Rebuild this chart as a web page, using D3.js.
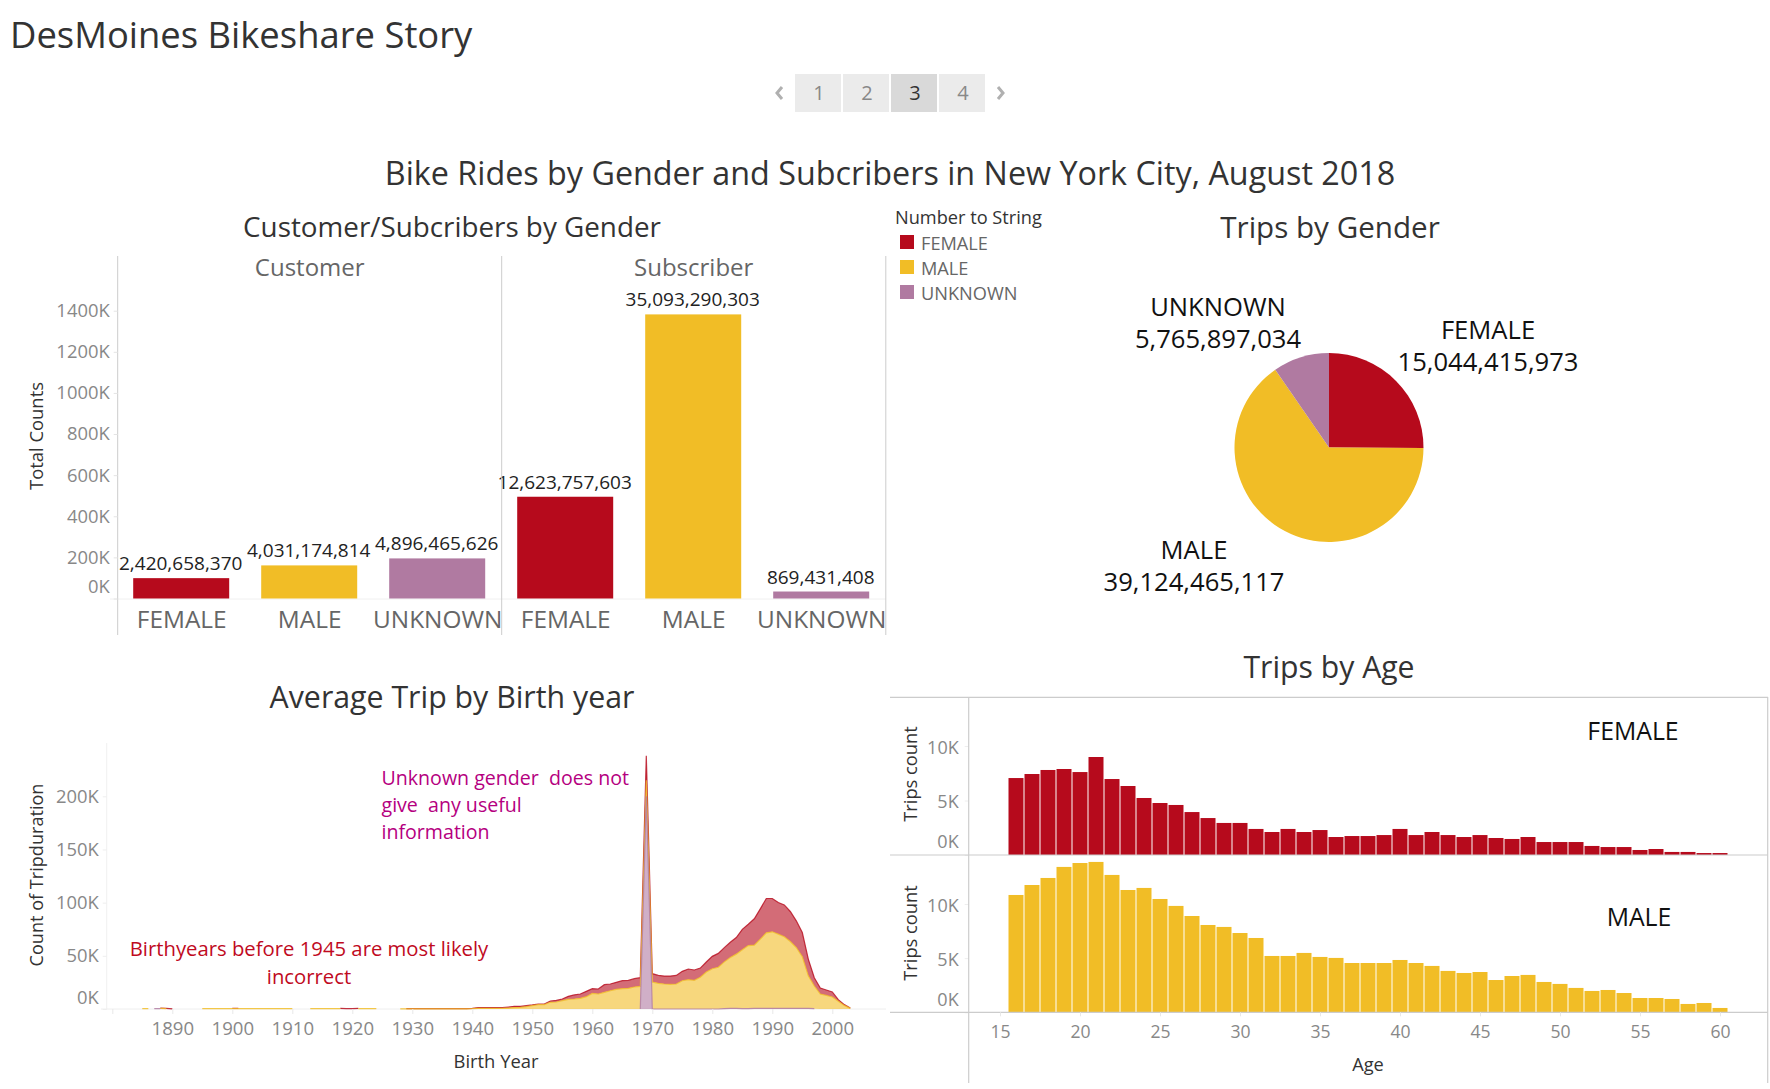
<!DOCTYPE html>
<html>
<head>
<meta charset="utf-8">
<title>DesMoines Bikeshare Story</title>
<script src="https://cdn.jsdelivr.net/npm/d3@7"></script>
<style>
  body { margin: 0; background: #fff; }
  svg { position: absolute; top: 1px; left: 0; }
  svg text { font-family: "Open Sans", sans-serif; }
</style>
</head>
<body>
<div id="chart"></div>
<script>
// ---- data ----
const genders = ["FEMALE", "MALE", "UNKNOWN"];
const genderColors = ["#b60a1c", "#f1bd26", "#b07aa1"];

const customerCounts = [99, 161, 195];
const subscriberCounts = [495, 1382, 34];
const customerLabels = ["2,420,658,370", "4,031,174,814", "4,896,465,626"];
const subscriberLabels = ["12,623,757,603", "35,093,290,303", "869,431,408"];
const barTicks = [0, 200, 400, 600, 800, 1000, 1200, 1400];

const tripTotals = [15044415973, 39124465117, 5765897034];
const tripLabels = ["15,044,415,973", "39,124,465,117", "5,765,897,034"];

const pages = ["1", "2", "3", "4"];

// one row per ten birth years, starting 1885
const birthYears = d3.range(1885, 2004);
const birthTicks = [1880, 1890, 1900, 1910, 1920, 1930, 1940, 1950, 1960, 1970, 1980, 1990, 2000];
const birthTickLabelled = [1890, 1900, 1910, 1920, 1930, 1940, 1950, 1960, 1970, 1980, 1990, 2000];
const birthValueTicks = [0, 50, 100, 150, 200];
const birthUnknown = [
  null, null, .3, .3, null, null, null, null, null, null,
  null, null, null, null, null, null, null, null, null, null,
  null, null, null, null, null, null, null, null, null, null,
  null, null, null, null, null, null, null, null, null, null,
  null, null, null, null, null, null, null, null, null, null,
  null, null, null, null, null, null, null, null, null, null,
  null, null, null, null, null, null, null, null, null, null,
  null, null, null, null, null, null, null, null, null, null,
  null, null, null, 0, 200, 0, 0, 0, 0, 0,
  0, 0, 0, 0, 0, 0, 0, .4, .5, .5,
  .3, .4, .5, .5, .5, .5, .5, .5, .5, .5,
  .5, .5, .3, null, null, null, null, null, null
];
const birthMale = [
  .3, .3, null, .3, .3, null, null, null, null, null,
  .3, .3, .3, .3, .3, .3, .3, .3, .3, .3,
  .3, .3, .3, .3, .3, .3, null, null, .3, .3,
  .3, .3, .3, .3, null, null, .3, .3, .3, .3,
  null, null, null, .2, .2, .2, .2, .2, .2, .2,
  .2, .2, .2, .2, .2, .3, .6, .6, .6, .6,
  .6, .9, 1.3, 1.6, 2.2, 3.1, 4.1, 4.1, 6.3, 6.6,
  7.8, 9.1, 9.4, 10, 11.6, 14.7, 14.1, 15.7, 17.2, 18.5,
  19.1, 19.4, 20.7, 21.3, 15, 25.4, 24.1, 23.5, 23.2, 23.5,
  26.6, 27.6, 26.9, 29.8, 34.8, 37.9, 39.2, 43.9, 47.9, 51.1,
  55.5, 59.2, 59.5, 65.2, 71.1, 72.1, 69.9, 67.4, 63, 57.3,
  48.6, 30.7, 21.3, 14.1, 12.8, 11.3, 7.2, 3.4, .6
];
const birthFemale = [
  null, null, null, .2, .2, .2, null, null, null, null,
  null, null, null, null, null, .2, .2, null, null, null,
  null, null, null, null, null, null, null, null, null, null,
  null, null, null, .3, .3, .3, .3, null, null, null,
  null, null, null, null, .2, .2, .2, .2, .2, .2,
  .2, .2, .2, .2, .2, .3, .7, .7, .7, .7,
  .8, 1, 1.2, .9, .9, .7, .6, .6, 1.2, 1.5,
  1.6, 2.8, 3.8, 4.1, 5, 4.4, 4.7, 7.2, 6.3, 6.6,
  7.5, 7.5, 7.8, 8.2, 23, 7.8, 7.5, 7.5, 7.8, 8.1,
  8.8, 10, 9.8, 8.7, 9.4, 11.6, 13.1, 13.4, 14.4, 15.6,
  19.1, 20.1, 24.8, 28.5, 32.3, 31.3, 29.7, 30, 28.2, 25.1,
  22.8, 15.7, 7.8, 5.6, 5.1, 4.7, 1.6, .7, .3
];

const ages = d3.range(16, 61);
const ageTicks = [15, 20, 25, 30, 35, 40, 45, 50, 55, 60];
const ageValueTicks = [0, 5, 10];
const ageFemale = [
  7.06, 7.43, 7.8, 7.89, 7.61, 8.99, 6.97, 6.33, 5.23, 4.77,
  4.59, 3.94, 3.39, 2.94, 2.94, 2.39, 2.11, 2.39, 2.11, 2.29,
  1.65, 1.74, 1.74, 1.83, 2.39, 1.83, 2.11, 1.83, 1.65, 1.83,
  1.56, 1.47, 1.65, 1.19, 1.19, 1.19, .83, .73, .73, .46,
  .55, .28, .28, .18, .18
];
const ageMale = [
  10.83, 11.75, 12.4, 13.42, 13.78, 13.88, 12.68, 11.29, 11.48, 10.46,
  9.82, 8.89, 8.06, 7.88, 7.32, 6.86, 5.2, 5.2, 5.48, 5.11,
  5.02, 4.55, 4.55, 4.55, 4.83, 4.55, 4.28, 3.82, 3.63, 3.72,
  2.98, 3.35, 3.45, 2.8, 2.62, 2.25, 1.97, 2.06, 1.78, 1.32,
  1.32, 1.23, .77, .86, .4
];

const tickGray = "#888888";
const kFormat = d => d + "K";

const svg = d3.select("#chart")
  .append("svg")
    .attr("width", 1770)
    .attr("height", 1088);

function addText(str, x, y, size, color, anchor) {
  return svg.append("text")
    .attr("x", x)
    .attr("y", y)
    .attr("text-anchor", anchor || "start")
    .style("font-size", size + "px")
    .attr("fill", color)
    .text(str);
}

function addRotated(str, x, y, size, color) {
  return svg.append("text")
    .attr("transform", `translate(${x},${y}) rotate(-90)`)
    .attr("text-anchor", "middle")
    .style("font-size", size + "px")
    .attr("fill", color)
    .text(str);
}

function styleAxis(g, lineColor, size) {
  g.select(".domain").remove();
  g.selectAll("line").attr("stroke", lineColor);
  g.selectAll("text").attr("fill", tickGray).style("font-size", size + "px");
}

// headings
addText("DesMoines Bikeshare Story", 10, 47, 36.4, "#333333");
addText("Bike Rides by Gender and Subcribers in New York City, August 2018", 890, 184, 32.3, "#333333", "middle").style("font-weight", 500);
addText("Customer/Subcribers by Gender", 452, 236, 27.8, "#333333", "middle").style("font-weight", 500);
addText("Trips by Gender", 1330, 237, 29.6, "#333333", "middle").style("font-weight", 500);
addText("Trips by Age", 1329, 677, 30.2, "#333333", "middle").style("font-weight", 500);
addText("Average Trip by Birth year", 452, 707, 30.3, "#333333", "middle").style("font-weight", 500);

// story navigator
const pageX = d3.scaleBand().domain(pages).range([795, 985]).paddingInner(1 / 24).paddingOuter(0);
svg.append("g").selectAll("rect").data(pages).join("rect")
  .attr("x", d => pageX(d))
  .attr("y", 73)
  .attr("width", pageX.bandwidth())
  .attr("height", 38)
  .attr("fill", d => d === "3" ? "#d9d9d9" : "#ebebeb");
svg.append("g").selectAll("text").data(pages).join("text")
  .attr("x", d => pageX(d) + pageX.bandwidth() / 2 + 1)
  .attr("y", 99)
  .attr("text-anchor", "middle")
  .style("font-size", "20px")
  .attr("fill", d => d === "3" ? "#333333" : "#888888")
  .text(d => d);
svg.append("path").attr("d", "M782,86L777,92L782,98").attr("fill", "none").attr("stroke", "#b0b0b0").attr("stroke-width", 3);
svg.append("path").attr("d", "M998,86L1003,92L998,98").attr("fill", "none").attr("stroke", "#b0b0b0").attr("stroke-width", 3);

// ---- customer / subscriber bars ----
const barY = d3.scaleLinear().domain([0, 1400]).range([597.5, 309.7]);
const panels = [
  { name: "Customer", left: 117.7, values: customerCounts, labels: customerLabels },
  { name: "Subscriber", left: 501.7, values: subscriberCounts, labels: subscriberLabels }
];

svg.append("line").attr("x1", 110).attr("x2", 886).attr("y1", 598).attr("y2", 598).attr("stroke", "#f0f0f0");

panels.forEach(p => {
  const x = d3.scaleBand().domain(genders).range([p.left, p.left + 384]).paddingInner(0.25).paddingOuter(0.125);
  const rows = genders.map((g, i) => ({ g: g, v: p.values[i], label: p.labels[i], color: genderColors[i] }));

  svg.append("g").selectAll("rect").data(rows).join("rect")
    .attr("x", d => x(d.g) - 0.5)
    .attr("y", d => barY(d.v))
    .attr("width", x.bandwidth())
    .attr("height", d => barY(0) - barY(d.v))
    .attr("fill", d => d.color);

  svg.append("g").selectAll("text").data(rows).join("text")
    .attr("x", d => x(d.g) + x.bandwidth() / 2 - 1)
    .attr("y", d => barY(d.v) - 8)
    .attr("text-anchor", "middle")
    .style("font-size", "19px")
    .attr("fill", "#222222")
    .text(d => d.label);

  svg.append("g").selectAll("text").data(rows).join("text")
    .attr("x", d => x(d.g) + x.bandwidth() / 2)
    .attr("y", 627)
    .attr("text-anchor", "middle")
    .style("font-size", "24.4px")
    .attr("fill", "#666666")
    .text(d => d.g);

  addText(p.name, p.left + 192, 275, 24, "#666666", "middle");
});

[117.7, 501.7, 885.8].forEach(x => {
  svg.append("line").attr("x1", x).attr("x2", x).attr("y1", 255).attr("y2", 634).attr("stroke", "#cccccc");
});

const barAxis = svg.append("g")
  .attr("transform", "translate(117.7,0)")
  .call(d3.axisLeft(barY).tickValues(barTicks).tickFormat(kFormat).tickSize(4).tickPadding(4));
styleAxis(barAxis, "#e4e4e4", 18.4);
barAxis.selectAll(".tick").filter(d => d === 0).select("text").attr("dy", "-0.33em");
addRotated("Total Counts", 43, 435, 18.4, "#333333");

// legend
addText("Number to String", 895, 223, 18.2, "#333333");
genders.forEach((g, i) => {
  svg.append("rect").attr("x", 900).attr("y", 234 + i * 25).attr("width", 14).attr("height", 14).attr("fill", genderColors[i]);
  addText(g, 921, 249 + i * 25, 18.2, "#666666");
});

// ---- pie ----
const pie = d3.pie().sort(null).value(d => d.v);
const arc = d3.arc().innerRadius(0).outerRadius(94.5);
const pieRows = genders.map((g, i) => ({ g: g, v: tripTotals[i], color: genderColors[i] }));
svg.append("g")
  .attr("transform", "translate(1329,446.5)")
  .selectAll("path").data(pie(pieRows)).join("path")
    .attr("d", arc)
    .attr("fill", d => d.data.color);

const pieLabelPos = [[1488, 338, 370], [1194, 558, 590], [1218, 315, 347]];
genders.forEach((g, i) => {
  addText(g, pieLabelPos[i][0], pieLabelPos[i][1], 25.6, "#111111", "middle");
  addText(tripLabels[i], pieLabelPos[i][0], pieLabelPos[i][2], 25.6, "#111111", "middle");
});

// ---- birth year area ----
const birthX = d3.scaleLinear().domain([1890, 2000]).range([172.3, 832.3]);
const birthY = d3.scaleLinear().domain([0, 200]).range([1008, 795.3]);
const birthRows = birthYears.map((y, i) => ({ year: y, UNKNOWN: birthUnknown[i], MALE: birthMale[i], FEMALE: birthFemale[i] }));
const stacked = d3.stack()
  .keys(["UNKNOWN", "MALE", "FEMALE"])
  .value((d, k) => d[k] || 0)(birthRows);
const keyColor = { FEMALE: "#b60a1c", MALE: "#f1bd26", UNKNOWN: "#b07aa1" };

svg.append("line").attr("x1", 106.7).attr("x2", 106.7).attr("y1", 742).attr("y2", 1008).attr("stroke", "#f0f0f0");
svg.append("line").attr("x1", 101).attr("x2", 886).attr("y1", 1008).attr("y2", 1008).attr("stroke", "#eeeeee");

stacked.slice().reverse().forEach(layer => {
  const area = d3.area()
    .defined(d => d.data[layer.key] != null)
    .x(d => birthX(d.data.year))
    .y0(d => birthY(d[0]))
    .y1(d => birthY(d[1]));
  const line = d3.line()
    .defined(d => d.data[layer.key] != null)
    .x(d => birthX(d.data.year))
    .y(d => birthY(d[1]));
  svg.append("path").datum(layer)
    .attr("d", area)
    .attr("fill", keyColor[layer.key])
    .attr("fill-opacity", 0.6);
  svg.append("path").datum(layer)
    .attr("d", line)
    .attr("fill", "none")
    .attr("stroke", keyColor[layer.key])
    .attr("stroke-opacity", 0.8)
    .attr("stroke-width", 1.2);
});

const birthYAxis = svg.append("g")
  .attr("transform", "translate(106.7,0)")
  .call(d3.axisLeft(birthY).tickValues(birthValueTicks).tickFormat(kFormat).tickSize(4).tickPadding(4));
styleAxis(birthYAxis, "#eeeeee", 18.4);
birthYAxis.selectAll(".tick").filter(d => d === 0).select("text").attr("dy", "-0.32em");

const birthXAxis = svg.append("g")
  .attr("transform", "translate(0,1008)")
  .call(d3.axisBottom(birthX).tickValues(birthTicks)
    .tickFormat(d => birthTickLabelled.includes(d) ? d : "").tickSize(5).tickPadding(8));
styleAxis(birthXAxis, "#e8e8e8", 18.6);

addRotated("Count of Tripduration", 43, 874, 18.1, "#333333");
addText("Birth Year", 496, 1067, 18.4, "#333333", "middle");

const noteUnknown = ["Unknown gender  does not", "give  any useful", "information"];
noteUnknown.forEach((t, i) => {
  addText(t, 381.5, 784 + i * 27, 19.6, "#b5007f").style("white-space", "pre");
});
addText("Birthyears before 1945 are most likely", 309, 955, 20.3, "#c00a1e", "middle");
addText("incorrect", 309, 983, 20.3, "#c00a1e", "middle");

// ---- trips by age ----
const ageX = d3.scaleLinear().domain([15, 60]).range([1000, 1720]);
const agePanels = [
  { name: "FEMALE", values: ageFemale, base: 854, color: "#b60a1c", px: 32.7 / 3, nameX: 1633, nameY: 739, titleY: 773 },
  { name: "MALE", values: ageMale, base: 1011.3, color: "#f1bd26", px: 32.5 / 3, nameX: 1639, nameY: 925, titleY: 932 }
];

agePanels.forEach(p => {
  const y = d3.scaleLinear().domain([0, 10]).range([p.base, p.base - p.px * 10]);
  const rows = ages.map((a, i) => ({ age: a, v: p.values[i] }));
  svg.append("g").selectAll("rect").data(rows).join("rect")
    .attr("x", d => ageX(d.age) - 7.5)
    .attr("y", d => y(d.v))
    .attr("width", 15)
    .attr("height", d => y(0) - y(d.v))
    .attr("fill", p.color);

  const axis = svg.append("g")
    .attr("transform", "translate(968.7,0)")
    .call(d3.axisLeft(y).tickValues(ageValueTicks).tickFormat(kFormat).tickSize(4).tickPadding(6));
  styleAxis(axis, "#eeeeee", 18);
  axis.selectAll(".tick text").attr("dy", "0.4em");
  axis.selectAll(".tick").filter(d => d === 0).select("text").attr("dy", "-0.4em");

  addRotated("Trips count", 917, p.titleY, 18.3, "#333333");
  addText(p.name, p.nameX, p.nameY, 24.8, "#111111", "middle");
});

[696.3, 854, 1011.3].forEach(y => {
  svg.append("line").attr("x1", 890).attr("x2", 1768).attr("y1", y).attr("y2", y).attr("stroke", "#cccccc").attr("stroke-width", 1.2);
});
[968.7, 1767.7].forEach(x => {
  svg.append("line").attr("x1", x).attr("x2", x).attr("y1", 696).attr("y2", 1082).attr("stroke", "#cccccc").attr("stroke-width", 1.2);
});

const ageXAxis = svg.append("g")
  .attr("transform", "translate(0,1011.3)")
  .call(d3.axisBottom(ageX).tickValues(ageTicks).tickFormat(d => d).tickSize(4).tickPadding(9));
styleAxis(ageXAxis, "#e8e8e8", 17.6);
addText("Age", 1368, 1070, 18.2, "#333333", "middle");
</script>
</body>
</html>
